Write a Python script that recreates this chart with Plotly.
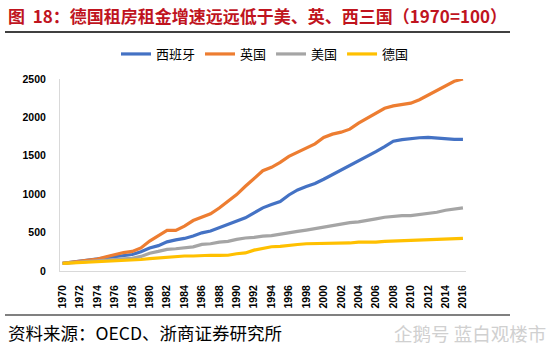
import plotly.graph_objects as go

years = list(range(1970, 2017))

spain = [100, 115, 130, 140, 150, 165, 186, 200, 215, 250,
         300, 330, 380, 405, 424, 455, 497, 520, 562, 600,
         649, 692, 757, 822, 865, 905, 990, 1055, 1100, 1140,
         1195, 1255, 1305, 1365, 1430, 1490, 1555, 1620, 1690, 1710,
         1725, 1735, 1740, 1730, 1715, 1715, 1715]

uk = [100, 115, 130, 145, 155, 185, 216, 240, 255, 300,
      390, 460, 528, 528, 585, 657, 700, 744, 820, 908,
      995, 1103, 1211, 1306, 1350, 1414, 1492, 1544, 1600, 1656,
      1739, 1782, 1808, 1847, 1925, 1990, 2054, 2119, 2150, 2165,
      2185, 2230, 2290, 2340, 2410, 2470, 2500]

usa = [100, 110, 120, 128, 135, 142, 150, 157, 165, 190,
       232, 255, 281, 290, 303, 315, 346, 355, 376, 385,
       411, 430, 437, 455, 460, 475, 497, 515, 532, 552,
       571, 590, 618, 630, 640, 655, 679, 700, 714, 720,
       722, 735, 748, 765, 791, 810, 822]

germany = [100, 105, 110, 115, 120, 130, 140, 143, 145, 150,
           160, 170, 173, 185, 195, 195, 203, 205, 203, 205,
           225, 235, 272, 295, 316, 320, 337, 345, 355, 355,
           359, 360, 359, 365, 376, 375, 376, 385, 389, 390,
           398, 400, 411, 410, 411, 420, 424]

series_names = ["西班牙", "英国", "美国", "德国"]
series_values = [spain, uk, usa, germany]
colors = ["#4472C4", "#ED7D31", "#A5A5A5", "#FFC000"]

x_tick_vals = list(range(1970, 2017, 2))
x_tick_text = [str(y) for y in x_tick_vals]
y_tick_vals = [0, 500, 1000, 1500, 2000, 2500]

title_text = "图\u00a0\u00a018：德国租房租金增速远远低于美、英、西三国（1970=100）"
source_text = "资料来源：OECD、浙商证券研究所"
watermark_text = "企鹅号 蓝白观楼市"

W, H = 554, 352
L, R, T, B = 60, 88, 79, 81
pw, ph = W - L - R, H - T - B


def px(x):
    return (x - L) / pw


def py(y):
    return (H - B - y) / ph


fig = go.Figure()
for name, vals, c in zip(series_names, series_values, colors):
    fig.add_trace(go.Scatter(x=years, y=vals, name=name, mode="lines",
                             line=dict(color=c, width=3.2)))

cjk = "Noto Sans CJK SC"
fig.update_layout(
    width=W, height=H,
    margin=dict(l=L, r=R, t=T, b=B),
    paper_bgcolor="white", plot_bgcolor="white",
    showlegend=True,
    legend=dict(orientation="h", x=px(116), y=py(54), xanchor="left", yanchor="middle",
                font=dict(family=cjk, size=13, color="#000"),
                bgcolor="rgba(0,0,0,0)", itemwidth=30, tracegroupgap=0),
    xaxis=dict(range=[1969.7, 2016.35], tickvals=x_tick_vals, ticktext=x_tick_text,
               tickangle=-90, showgrid=False, zeroline=False,
               showline=True, linecolor="#D9D9D9", linewidth=1,
               ticks="outside", ticklen=9, tickcolor="rgba(0,0,0,0)",
               tickfont=dict(family="Liberation Sans", size=10.5, color="#000", weight="bold")),
    yaxis=dict(range=[0, 2500], tickvals=y_tick_vals, showgrid=False, zeroline=False,
               showline=True, linecolor="#D9D9D9", linewidth=1,
               ticks="outside", ticklen=11, tickcolor="rgba(0,0,0,0)",
               tickfont=dict(family="Liberation Sans", size=10.5, color="#000", weight="bold")),
)

fig.add_annotation(text=title_text, xref="paper", yref="paper", x=px(6), y=py(15),
                   xanchor="left", yanchor="middle", showarrow=False,
                   font=dict(family=cjk, size=17, color="#C0141E", weight="bold"))
fig.add_shape(type="line", xref="paper", yref="paper", x0=px(5), x1=px(510),
              y0=py(32), y1=py(32), line=dict(color="#000", width=1.5))
fig.add_shape(type="line", xref="paper", yref="paper", x0=px(5), x1=px(510),
              y0=py(315), y1=py(315), line=dict(color="#808080", width=2))
fig.add_annotation(text=source_text, xref="paper", yref="paper", x=px(6), y=py(332),
                   xanchor="left", yanchor="middle", showarrow=False,
                   font=dict(family=cjk, size=17.5, color="#000"))
fig.add_annotation(text=watermark_text, xref="paper", yref="paper", x=px(392), y=py(333),
                   xanchor="left", yanchor="middle", showarrow=False,
                   font=dict(family=cjk, size=18.5, color="#D0D0D0"))

fig.write_html("out.html")
